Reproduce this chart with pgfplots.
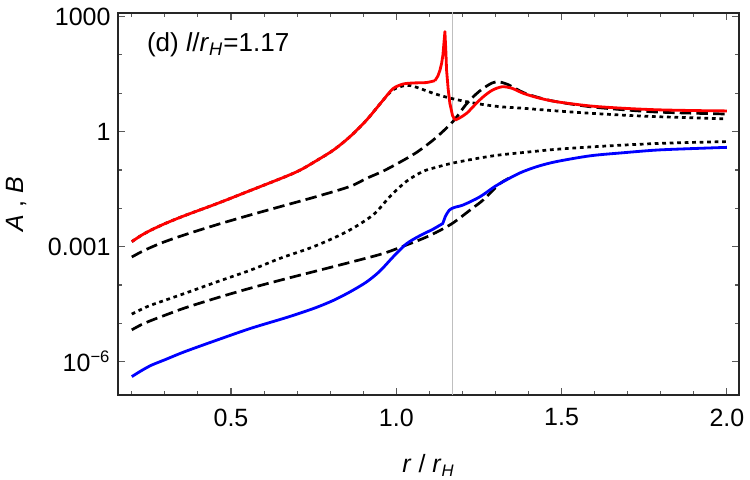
\documentclass[border=0pt]{standalone}
\usepackage{fontspec}
\setmainfont{Liberation Sans}
\usepackage{pgfplots}
\pgfplotsset{compat=1.18}
\begin{document}
\begin{tikzpicture}
\path[use as bounding box] (-56.6pt,-40.8pt) rectangle (303.4pt,189.6pt);
\begin{axis}[
  at={(0,0)}, anchor=south west,
  width=298.2pt, height=183.4pt, scale only axis,
  ymode=log,
  xmin=0.158, xmax=2.037,
  ymin=1.35e-7, ymax=1250,
  xtick={0.5,1.0,1.5,2.0},
  xticklabels={0.5,1.0,1.5,2.0},
  minor xtick={0.2,0.3,0.4,0.6,0.7,0.8,0.9,1.1,1.2,1.3,1.4,1.6,1.7,1.8,1.9},
  ytick={1e-6,1e-3,1,1e3},
  yticklabels={10\textsuperscript{−6},0.001,1,1000},
  minor ytick={1e-7,1e-5,1e-4,1e-2,1e-1,10,100},
  tick align=inside,
  major tick length=3.2pt,
  minor tick length=2pt,
  tick style={black!65, line width=0.5pt},
  axis line style={black!85, line width=0.8pt},
  xticklabel style={yshift=-3pt},
  /pgf/number format/assume math mode=true,
  every tick label/.append style={font=\fontsize{12}{14}\selectfont},
  xlabel={\textit{r} / \textit{r}\textsubscript{\textit{H}}},
  ylabel={\textit{A} , \textit{B}},
  every axis x label/.style={at={(axis description cs:0.5,-0.185)}, anchor=center, font=\fontsize{12}{14}\selectfont},
  every axis y label/.style={at={(axis description cs:-0.164,0.5)}, rotate=90, anchor=center, font=\fontsize{12}{14}\selectfont},
  clip=true,
]
% vertical reference line
\addplot[black!25, line width=0.8pt] coordinates {(1.17,1e-8) (1.17,1e4)};

% upper dotted
\addplot[black, line width=1.3pt, dash pattern=on 1.8pt off 1.8pt, smooth, tension=0.5] coordinates {
(0.2,1.35e-3) (0.23,2.0e-3) (0.26,2.75e-3) (0.30,3.98e-3) (0.36,6.46e-3)
(0.46,1.35e-2) (0.56,2.95e-2)
(0.66,6.46e-2) (0.71,0.1) (0.76,0.178) (0.81,0.331) (0.86,0.741)
(0.91,2.0) (0.96,6.61) (0.99,12.3) (1.03,16.2) (1.06,14.45) (1.112,10.0)
(1.16,7.59) (1.213,6.03) (1.26,5.13) (1.314,4.47) (1.384,4.07) (1.485,3.47)
(1.586,3.02) (1.687,2.69) (1.788,2.455) (1.9,2.29) (2.0,2.14)};

% upper dashed
\addplot[black, line width=1.3pt, dash pattern=on 5.5pt off 2.5pt, smooth, tension=0.5] coordinates {
(0.2,5.37e-4) (0.23,7.41e-4) (0.26,9.77e-4) (0.30,1.35e-3) (0.36,2.04e-3)
(0.46,3.80e-3) (0.56,6.76e-3) (0.66,1.175e-2) (0.76,2.04e-2) (0.86,3.72e-2)
(0.91,6.03e-2) (0.96,9.33e-2) (1.01,0.158) (1.06,0.282) (1.11,0.589)
(1.15,1.20) (1.178,2.14) (1.21,5.01) (1.24,9.33)
(1.263,13.5) (1.29,18.6) (1.31,19.95) (1.34,16.6) (1.384,10.5) (1.43,7.76)
(1.485,6.03) (1.586,4.47) (1.687,3.72) (1.788,3.24) (1.9,3.02) (2.0,2.88)};

% lower dotted
\addplot[black, line width=1.3pt, dash pattern=on 1.8pt off 1.8pt, smooth, tension=0.5] coordinates {
(0.2,1.74e-5) (0.23,2.34e-5) (0.26,3.02e-5) (0.36,6.03e-5) (0.46,1.23e-4) (0.56,2.455e-4)
(0.65,5.01e-4) (0.75,1.0e-3) (0.85,2.455e-3) (0.93,6.76e-3) (0.98,2.0e-2)
(1.03,5.01e-2) (1.08,9.12e-2) (1.12,0.117) (1.17,0.151) (1.25,0.204)
(1.31,0.245) (1.40,0.295) (1.485,0.347) (1.586,0.398) (1.687,0.447)
(1.788,0.490) (1.9,0.525) (2.0,0.550)};

% lower dashed
\addplot[black, line width=1.3pt, dash pattern=on 5.5pt off 2.5pt, smooth, tension=0.5] coordinates {
(0.2,6.76e-6) (0.23,9.33e-6) (0.26,1.20e-5) (0.30,1.62e-5) (0.36,2.51e-5)
(0.46,4.68e-5) (0.56,8.32e-5) (0.66,1.41e-4) (0.76,2.34e-4) (0.86,3.89e-4)
(0.96,6.61e-4) (1.03,1.10e-3) (1.08,1.62e-3) (1.12,2.34e-3) (1.17,4.07e-3)
(1.23,1.0e-2) (1.263,1.66e-2) (1.314,4.47e-2) (1.35,6.61e-2)};

% red solid (three pieces: smooth, spike, smooth)
\addplot[red, line width=1.35pt, smooth, tension=0.5] coordinates {
(0.2,1.35e-3) (0.23,2.0e-3) (0.26,2.75e-3) (0.30,3.98e-3) (0.36,6.46e-3)
(0.46,1.35e-2) (0.56,2.95e-2)
(0.66,6.46e-2) (0.71,0.1) (0.76,0.178) (0.81,0.331) (0.86,0.741)
(0.91,2.0) (0.96,6.61) (0.99,13.2) (1.02,17.4) (1.05,18.6) (1.09,19.05)
(1.117,21.4)};
\addplot[red, line width=1.35pt, line join=round] coordinates {
(1.117,21.4) (1.126,28.5) (1.132,39.8) (1.137,60.0) (1.141,100) (1.144,200) (1.147,407)
(1.150,120) (1.152,40.7) (1.157,12.6)
(1.162,5.50) (1.170,2.63) (1.178,2.0)};
\addplot[red, line width=1.35pt, smooth, tension=0.5] coordinates {
(1.178,2.0) (1.19,2.24) (1.213,3.02) (1.24,5.25)
(1.263,8.13) (1.29,12.0) (1.32,14.8) (1.35,13.5) (1.384,10.0) (1.43,7.59)
(1.485,6.03) (1.586,4.68) (1.687,4.07) (1.788,3.72) (1.9,3.55) (2.0,3.47)};

% blue solid
\addplot[blue, line width=1.35pt, smooth, tension=0.5] coordinates {
(0.2,4.07e-7) (0.23,5.89e-7) (0.26,8.13e-7) (0.30,1.12e-6) (0.36,1.82e-6)
(0.46,3.72e-6) (0.56,7.41e-6) (0.66,1.35e-5) (0.71,1.86e-5) (0.76,2.63e-5)
(0.81,3.98e-5) (0.86,6.61e-5) (0.91,1.20e-4) (0.95,2.29e-4) (0.99,5.37e-4)
(1.03,1.175e-3) (1.07,1.905e-3) (1.11,2.82e-3) (1.13,3.55e-3)
(1.14,3.98e-3) (1.148,6.03e-3) (1.16,8.91e-3) (1.175,1.05e-2) (1.203,1.23e-2)
(1.253,2.0e-2) (1.30,3.80e-2) (1.35,6.61e-2) (1.384,9.12e-2) (1.43,0.126)
(1.485,0.166) (1.586,0.234) (1.687,0.282) (1.788,0.331) (1.9,0.363) (2.0,0.389)};

\node[anchor=west, font=\fontsize{12.5}{14}\selectfont] at (axis description cs:0.035,0.916)
  {(d) \textit{l}/\textit{r}\textsubscript{\textit{H}}=1.17};
\end{axis}
\end{tikzpicture}
\end{document}
